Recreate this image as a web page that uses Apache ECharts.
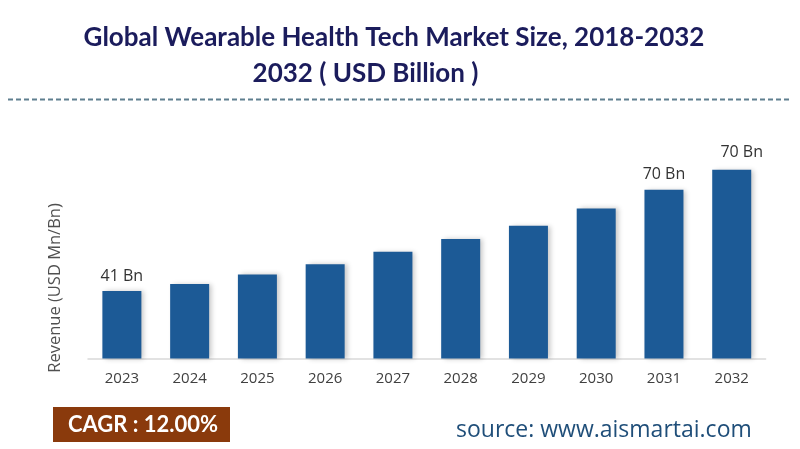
<!DOCTYPE html>
<html>
<head>
<meta charset="utf-8">
<script src="https://cdn.jsdelivr.net/npm/echarts@6/dist/echarts.min.js"></script>
<style>
html,body{margin:0;padding:0;background:#fff;}
#chart{width:800px;height:449px;}
</style>
</head>
<body>
<div id="chart"></div>
<script>
const categories = ['2023','2024','2025','2026','2027','2028','2029','2030','2031','2032'];
const revenue = [41, 45.3, 51.1, 57.2, 64.9, 72.6, 80.7, 91.2, 102.5, 114.7];
const barLabels = ['41 Bn','','','','','','','','70 Bn','70 Bn'];
const titleLine1 = 'Global Wearable Health Tech Market Size, 2018-2032';
const titleLine2 = '2032 ( USD Billion )';
const yAxisTitle = 'Revenue (USD Mn/Bn)';
const cagrText = 'CAGR : 12.00%';
const sourceText = 'source: www.aismartai.com';

const chart = echarts.init(document.getElementById('chart'), null, {renderer:'canvas'});

const seriesData = revenue.map((v, i) => {
  const d = {value: v};
  if (barLabels[i]) {
    d.label = {show: true, formatter: barLabels[i]};
    if (i === revenue.length - 1) d.label.offset = [10, -2];
  }
  return d;
});

chart.setOption({
  animation: false,
  backgroundColor: '#ffffff',
  grid: {left: 88, right: 34.4, top: 161, bottom: 90.5},
  xAxis: {
    type: 'category',
    data: categories,
    axisLine: {show: true, lineStyle: {color: '#d9d9d9', width: 1.5}},
    axisTick: {show: false},
    axisLabel: {color: '#404040', fontSize: 15, fontFamily: 'Open Sans', margin: 13}
  },
  yAxis: {
    type: 'value',
    min: 0,
    max: 120,
    show: false
  },
  series: [{
    type: 'bar',
    data: seriesData,
    barWidth: 39,
    itemStyle: {
      color: '#1c5a96',
      shadowColor: 'rgba(0,0,0,0.22)',
      shadowBlur: 5,
      shadowOffsetX: 3,
      shadowOffsetY: 0
    },
    label: {
      show: false,
      position: 'top',
      distance: 7,
      color: '#333333',
      fontSize: 16,
      fontFamily: 'Open Sans'
    }
  }],
  graphic: [
    {type: 'text', x: 394, y: 38, style: {text: titleLine1, fill: '#1b1c5c', font: 'bold 26px Lato', textAlign: 'center', textVerticalAlign: 'middle'}},
    {type: 'text', x: 365.5, y: 74, style: {text: titleLine2, fill: '#1b1c5c', font: 'bold 26px Lato', textAlign: 'center', textVerticalAlign: 'middle'}},
    {type: 'line', shape: {x1: 8, y1: 99.5, x2: 792, y2: 99.5}, style: {stroke: '#5f7f8f', lineWidth: 2, lineDash: [5, 3]}},
    {type: 'text', x: 55, y: 288, rotation: Math.PI / 2, style: {text: yAxisTitle, fill: '#505050', font: '16.5px "Open Sans"', textAlign: 'center', textVerticalAlign: 'middle'}},
    {type: 'rect', shape: {x: 53, y: 407, width: 177, height: 35}, style: {fill: '#8a3a0c'}},
    {type: 'text', x: 143, y: 425, style: {text: cagrText, fill: '#ffffff', font: 'bold 22px Lato', textAlign: 'center', textVerticalAlign: 'middle'}},
    {type: 'text', x: 456, y: 430, style: {text: sourceText, fill: '#1f4e79', font: '23px "Open Sans"', textAlign: 'left', textVerticalAlign: 'middle'}}
  ]
});
</script>
</body>
</html>
